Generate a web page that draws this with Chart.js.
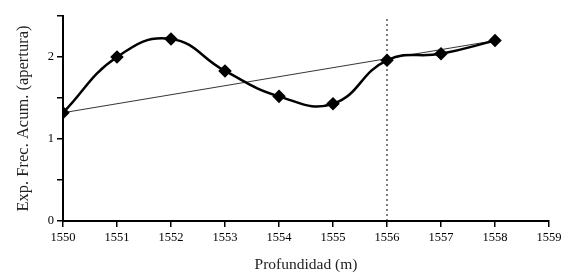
<!DOCTYPE html>
<html lang="es">
<head>
  <meta charset="UTF-8">
  <title>Profundidad</title>
  <script src="https://cdn.jsdelivr.net/npm/chart.js"></script>
  <style>
    html, body { margin: 0; padding: 0; background: #fff; }
    #wrap { width: 577px; height: 276px; }
  </style>
</head>
<body>
  <div id="wrap"><canvas id="grafico"></canvas></div>

  <script>
    // Datos
    const profundidad = [1550, 1551, 1552, 1553, 1554, 1555, 1556, 1557, 1558];
    const expFrec = [1.32, 2.0, 2.22, 1.83, 1.52, 1.43, 1.96, 2.04, 2.2];
    const tendencia = [[1550, 1.32], [1558, 2.2]];
    const limite = [[1556, 0], [1556, 2.5]];

    const fuente = "'Liberation Serif', 'Times New Roman', serif";

    const ctx = document.getElementById("grafico").getContext("2d");
    new Chart(ctx, {
      type: "line",
      data: {
        datasets: [
          {
            label: "Exp. Frec. Acum.",
            data: profundidad.map((p, i) => ({ x: p, y: expFrec[i] })),
            borderColor: "#000",
            backgroundColor: "#000",
            borderWidth: 2.5,
            tension: 0.45,
            pointStyle: "rectRot",
            pointRadius: 5,
            pointHoverRadius: 5
          },
          {
            label: "Tendencia",
            data: tendencia.map(t => ({ x: t[0], y: t[1] })),
            borderColor: "#000",
            borderWidth: 0.8,
            pointRadius: 0
          },
          {
            label: "Límite",
            data: limite.map(t => ({ x: t[0], y: t[1] })),
            borderColor: "#000",
            borderWidth: 1,
            borderDash: [2, 3],
            pointRadius: 0
          }
        ]
      },
      options: {
        responsive: true,
        maintainAspectRatio: false,
        animation: false,
        layout: { padding: { top: 16, right: 28, left: 0, bottom: 0 } },
        plugins: { legend: { display: false }, tooltip: { enabled: false } },
        scales: {
          x: {
            type: "linear",
            min: 1550,
            max: 1559,
            afterFit: s => { s.height = 55; },
            border: { display: true, color: "#000", width: 2 },
            grid: { drawOnChartArea: false, drawTicks: true, tickLength: 6, color: "#000", lineWidth: 1.5 },
            ticks: {
              stepSize: 1, color: "#000", padding: 3, maxRotation: 0,
              font: { family: fuente, size: 12.5 },
              callback: v => String(v)
            },
            title: { display: true, text: "Profundidad (m)", color: "#222", padding: { top: 0, bottom: 2 }, font: { family: fuente, size: 15.5 } }
          },
          y: {
            min: 0,
            max: 2.5,
            afterFit: s => { s.width = 63; },
            border: { display: true, color: "#000", width: 2 },
            grid: { drawOnChartArea: false, drawTicks: true, tickLength: 6, color: "#000", lineWidth: 1.5 },
            ticks: {
              stepSize: 0.5,
              color: "#000",
              padding: 3,
              font: { family: fuente, size: 12.5 },
              callback: v => Number.isInteger(v) ? v : ""
            },
            title: { display: true, text: "Exp. Frec. Acum. (apertura)", color: "#222", padding: { top: 14, bottom: 0 }, font: { family: fuente, size: 16.5 } }
          }
        }
      }
    });
  </script>
</body>
</html>
